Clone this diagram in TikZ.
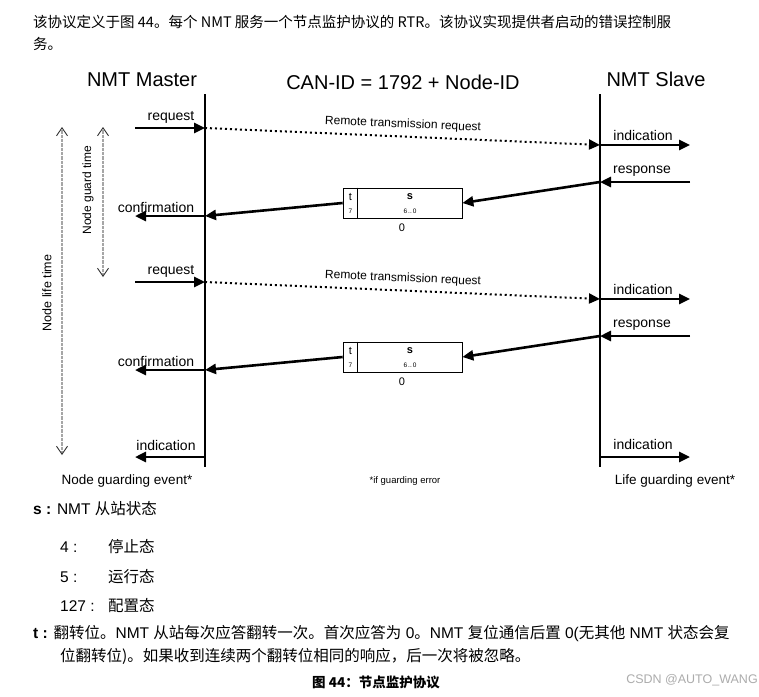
\documentclass[tikz,border=0pt]{standalone}
\usepackage{fontspec}
\setmainfont{Liberation Sans}
\newfontfamily\cjk{Noto Sans CJK SC}
\newcommand{\zh}[1]{{\cjk #1}}
\usetikzlibrary{arrows.meta,positioning}

\begin{document}
\begin{tikzpicture}[x=1pt,y=-1pt,
    lane/.style={line width=2.4pt},
    msg/.style={line width=2.6pt,-{Triangle[length=11pt,width=10pt]}},
    rtr/.style={line width=2pt,dash pattern=on 2pt off 3pt,-{Triangle[length=11pt,width=10pt]}},
    timer/.style={gray!70,line width=1.3pt,dash pattern=on 0.8pt off 0.5pt,
        {Straight Barb[length=8pt,width=11pt,line width=0.9pt,color=black!80]}-{Straight Barb[length=8pt,width=11pt,line width=0.9pt,color=black!80]}},
    lbl/.style={font=\fontsize{14}{16}\selectfont,inner sep=1pt},
    head/.style={font=\fontsize{20}{24}\selectfont},
    bit/.style={font=\fontsize{11}{12}\selectfont,inner sep=0pt},
    tiny/.style={font=\fontsize{6.5}{7}\selectfont,inner sep=0pt},
    txt/.style={anchor=west,inner sep=0pt,font=\fontsize{15.5}{18}\selectfont}]

    \useasboundingbox (0,0) rectangle (759,696);
    \fill[white] (0,0) rectangle (759,696);

    % 说明文字（上方）
    \node[txt,font=\cjk\fontsize{14.5}{18}\selectfont] (intro1) at (33,22) {该协议定义于图 44。每个 NMT 服务一个节点监护协议的 RTR。该协议实现提供者启动的错误控制服};
    \node[txt,font=\cjk\fontsize{14.5}{18}\selectfont] (intro2) at (33,44) {务。};

    % 标题
    \node[head] (master) at (142,80) {NMT Master};
    \node[head] (canid) at (403,82) {CAN-ID = 1792 + Node-ID};
    \node[head] (slave) at (656,79) {NMT Slave};

    % 生命线
    \coordinate (mtop) at (205,94);
    \coordinate (mbot) at (205,467);
    \coordinate (stop) at (600,94);
    \coordinate (sbot) at (600,467);
    \draw[lane] (mtop) -- (mbot);
    \draw[lane] (stop) -- (sbot);

    % 两次监护周期
    \foreach \c/\dy in {1/0,2/154} {
        \coordinate (qin\c) at (135,128+\dy);
        \coordinate (mreq\c) at (205,128+\dy);
        \coordinate (sind\c) at (600,145+\dy);
        \coordinate (iout\c) at (690,145+\dy);
        \coordinate (rin\c) at (690,182+\dy);
        \coordinate (sresp\c) at (600,182+\dy);
        \coordinate (mconf\c) at (205,216+\dy);
        \coordinate (cout\c) at (135,216+\dy);

        \draw[msg] (qin\c) -- (mreq\c);
        \node[lbl] (req\c) at (171,117+\dy) {request};
        \draw[rtr] (mreq\c) -- node[sloped,above=2pt,font=\fontsize{12}{14}\selectfont] (rtr\c) {Remote transmission request} (sind\c);
        \draw[msg] (sind\c) -- (iout\c);
        \node[lbl] (ind\c) at (643,135+\dy) {indication};
        \draw[msg] (rin\c) -- (sresp\c);
        \node[lbl] (resp\c) at (642,171+\dy) {response};

        % 应答报文
        \node[draw,line width=0.7pt,minimum width=119pt,minimum height=30pt,inner sep=0pt] (box\c) at (402.5,203+\dy) {};
        \draw[line width=0.5pt] ([xshift=15pt]box\c.north west) -- ([xshift=15pt]box\c.south west);
        \node[bit] (t\c) at (350.5,197+\dy) {t};
        \node[tiny] (tb\c) at (350.5,211+\dy) {7};
        \node[bit] (s\c) at (410,197+\dy) {\textbf{s}};
        \node[tiny] (sb\c) at (410,211+\dy) {6\,..\,0};
        \node[bit] (zero\c) at (402,228+\dy) {0};

        \draw[msg] (sresp\c) -- (box\c.east);
        \draw[msg] (box\c.west) -- (mconf\c);
        \draw[msg] (mconf\c) -- (cout\c);
        \node[lbl] (conf\c) at (156,207+\dy) {confirmation};
    }

    % 监护事件
    \coordinate (mind) at (205,457);
    \coordinate (mindout) at (135,457);
    \coordinate (sind) at (600,457);
    \coordinate (sindout) at (690,457);
    \draw[msg] (mind) -- (mindout);
    \draw[msg] (sind) -- (sindout);
    \node[lbl] (mindl) at (166,445) {indication};
    \node[lbl] (sindl) at (643,444) {indication};

    % 时间箭头
    \coordinate (lifetop) at (62,127);
    \coordinate (lifebot) at (62,455);
    \coordinate (guardtop) at (103,127);
    \coordinate (guardbot) at (103,277);
    \draw[timer] (lifetop) -- (lifebot);
    \draw[timer] (guardtop) -- (guardbot);
    \node[rotate=90,font=\fontsize{12.5}{14}\selectfont] (life) at (47,293) {Node life time};
    \node[rotate=90,font=\fontsize{12}{14}\selectfont] (guard) at (88,190) {Node guard time};

    % 下方标签
    \node[font=\fontsize{13.5}{16}\selectfont] (nge) at (127,481) {Node guarding event*};
    \node[font=\fontsize{9.5}{11}\selectfont] (err) at (405,481) {*if guarding error};
    \node[font=\fontsize{13.5}{16}\selectfont] (lge) at (675,481) {Life guarding event*};

    % 状态说明
    \node[txt] (sdef) at (33,509) {\textbf{s :} NMT \zh{从站状态}};
    \foreach \v/\st/\y in {4/停止态/547,5/运行态/577,127/配置态/606} {
        \node[txt] (v\v) at (60,\y) {\v\ :};
        \node[txt] (st\v) at (108,\y) {\zh{\st}};
    }
    \node[txt] (tdef1) at (33,634) {\textbf{t :} \zh{翻转位。}NMT \zh{从站每次应答翻转一次。首次应答为} 0\zh{。}NMT \zh{复位通信后置} 0(\zh{无其他} NMT \zh{状态会复}};
    \node[txt] (tdef2) at (60,656) {\zh{位翻转位}\zh{)。如果收到连续两个翻转位相同的响应，后一次将被忽略。}};

    % 图题
    \node[font=\cjk\bfseries\fontsize{13.5}{16}\selectfont] (cap) at (376,682) {图 44：节点监护协议};
    \node[font=\fontsize{12.5}{14}\selectfont,text=gray!65] (mark) at (692,680) {CSDN @AUTO\_WANG};
\end{tikzpicture}
\end{document}
